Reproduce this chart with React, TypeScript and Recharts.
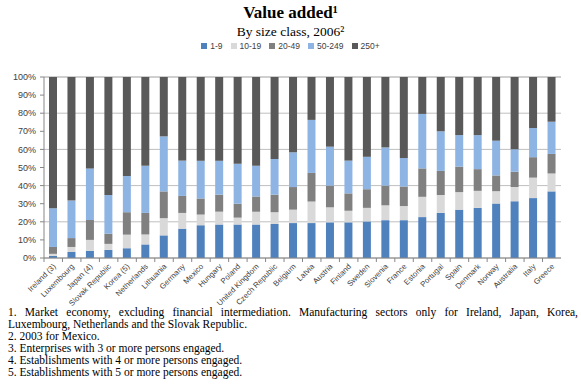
import { BarChart, Bar, CartesianGrid, XAxis, YAxis, Legend } from 'recharts';

const countries = [
  'Ireland (3)', 'Luxembourg', 'Japan (4)', 'Slovak Republic', 'Korea (5)', 'Netherlands',
  'Lithuania', 'Germany', 'Mexico', 'Hungary', 'Poland', 'United Kingdom', 'Czech Republic',
  'Belgium', 'Latvia', 'Austria', 'Finland', 'Sweden', 'Slovenia', 'France', 'Estonia',
  'Portugal', 'Spain', 'Denmark', 'Norway', 'Australia', 'Italy', 'Greece',
];

// shares of value added by size class, %
const size1to9 = [1.2, 3.3, 4.0, 4.5, 5.4, 7.5, 12.5, 16.2, 18.1, 18.5, 18.5, 18.5, 18.8, 19.3, 19.3, 19.7, 19.7, 20.2, 20.9, 20.9, 22.6, 24.9, 26.7, 27.7, 30.1, 31.4, 33.1, 36.8];
const size10to19 = [1.1, 2.8, 6.0, 3.3, 7.5, 5.5, 9.5, 8.7, 5.9, 7.1, 3.8, 7.1, 6.5, 7.4, 11.9, 8.3, 6.4, 7.5, 8.2, 7.8, 11.2, 9.9, 9.7, 9.4, 6.8, 7.8, 11.3, 9.9];
const size20to49 = [3.8, 4.9, 11.0, 5.6, 12.4, 11.9, 14.8, 9.4, 8.9, 9.4, 7.7, 8.4, 9.7, 12.5, 15.8, 12.0, 9.6, 10.3, 10.9, 10.8, 15.7, 13.3, 14.1, 12.0, 8.7, 8.5, 11.3, 10.8];
const size50to249 = [21.4, 20.7, 28.5, 21.4, 20.0, 26.0, 30.4, 19.5, 20.8, 18.7, 22.1, 16.9, 19.7, 19.2, 29.3, 21.5, 18.1, 17.9, 21.1, 15.7, 30.1, 21.9, 17.4, 18.8, 19.2, 12.4, 16.1, 17.8];
const size250plus = [72.5, 68.3, 50.5, 65.2, 54.7, 49.1, 32.8, 46.2, 46.3, 46.3, 47.9, 49.1, 45.3, 41.6, 23.7, 38.5, 46.2, 44.1, 38.9, 44.8, 20.4, 30.0, 32.1, 32.1, 35.2, 39.9, 28.2, 24.7];

const yTicks = [0, 10, 20, 30, 40, 50, 60, 70, 80, 90, 100];

const seriesKeys = [
  { key: 'a', name: '1-9', color: '#4f81bd' },
  { key: 'b', name: '10-19', color: '#d9d9d9' },
  { key: 'c', name: '20-49', color: '#808080' },
  { key: 'd', name: '50-249', color: '#8eb4e3' },
  { key: 'e', name: '250+', color: '#595959' },
];

const chartData = countries.map((country, i) => ({
  country,
  a: size1to9[i],
  b: size10to19[i],
  c: size20to49[i],
  d: size50to249[i],
  e: size250plus[i],
}));

const serif = '"Liberation Serif", "DejaVu Serif", serif';
const sans = '"Liberation Sans", Arial, sans-serif';

// half of a category band, for the tick marks between bars
const HALF_BAND = 517 / 28 / 2;

const CountryTick = ({ x, y, payload }: any) => (
  <g>
    <line x1={x - HALF_BAND} y1={y - 4} x2={x - HALF_BAND} y2={y} stroke="#868686" />
    <text
      x={x + 3}
      y={y + 5}
      transform={`rotate(-45, ${x + 3}, ${y + 5})`}
      textAnchor="end"
      fontSize={7.8}
      fontFamily={sans}
      fill="#404040"
    >
      {payload.value}
    </text>
  </g>
);

// keep legend in series order
const SizeLegend = () => (
  <div style={{ display: 'flex', justifyContent: 'center', gap: 8, fontSize: 8.5, fontFamily: sans, color: '#404040' }}>
    {seriesKeys.map((s) => (
      <span key={s.key} style={{ display: 'flex', alignItems: 'center' }}>
        <span style={{ display: 'inline-block', width: 6, height: 6, background: s.color, marginRight: 3 }} />
        {s.name}
      </span>
    ))}
  </div>
);

export default function App() {
  return (
    <div style={{ position: 'absolute', left: 0, top: 0, width: 581, height: 385, background: '#fff' }}>
      <div
        style={{
          position: 'absolute', top: 3, width: 581, textAlign: 'center',
          fontFamily: serif, fontWeight: 'bold', fontSize: 17,
        }}
      >
        Value added¹
      </div>
      <div
        style={{
          position: 'absolute', top: 24, width: 581, textAlign: 'center',
          fontFamily: serif, fontSize: 13.5,
        }}
      >
        By size class, 2006²
      </div>

      <div style={{ position: 'absolute', top: 0, left: 0 }}>
        <BarChart
          width={581}
          height={385}
          data={chartData}
          margin={{ top: 67, right: 20, left: 0, bottom: 0 }}
        >
          <CartesianGrid vertical={false} stroke="#bfbfbf" strokeWidth={1} />
          <XAxis
            dataKey="country"
            interval={0}
            height={127}
            tickLine={false}
            tickSize={4}
            tickMargin={0}
            axisLine={{ stroke: '#868686' }}
            tick={<CountryTick />}
          />
          <YAxis
            type="number"
            domain={[0, 100]}
            ticks={yTicks}
            width={44}
            tickSize={4}
            tickMargin={4}
            tickLine={{ stroke: '#868686' }}
            axisLine={{ stroke: '#868686' }}
            tickFormatter={(v: number) => `${v}%`}
            tick={{ fontSize: 9, fill: '#404040', fontFamily: sans }}
          />
          <Legend
            verticalAlign="top"
            content={<SizeLegend />}
            wrapperStyle={{ top: 41, left: 0, width: 581 }}
          />
          {seriesKeys.map((s) => (
            <Bar
              key={s.key}
              dataKey={s.key}
              name={s.name}
              stackId="all"
              fill={s.color}
              barSize={8}
              isAnimationActive={false}
            />
          ))}
        </BarChart>
      </div>

      <div
        style={{
          position: 'absolute', left: 8, top: 306, width: 570,
          fontFamily: serif, fontSize: 11.5, lineHeight: '12px', color: '#000',
        }}
      >
        <div style={{ textAlign: 'justify', textAlignLast: 'left' }}>
          1. Market economy, excluding financial intermediation. Manufacturing sectors only for Ireland, Japan, Korea,
          Luxembourg, Netherlands and the Slovak Republic.
        </div>
        <div>2. 2003 for Mexico.</div>
        <div>3. Enterprises with 3 or more persons engaged.</div>
        <div>4. Establishments with 4 or more persons engaged.</div>
        <div>5. Establishments with 5 or more persons engaged.</div>
      </div>
    </div>
  );
}
